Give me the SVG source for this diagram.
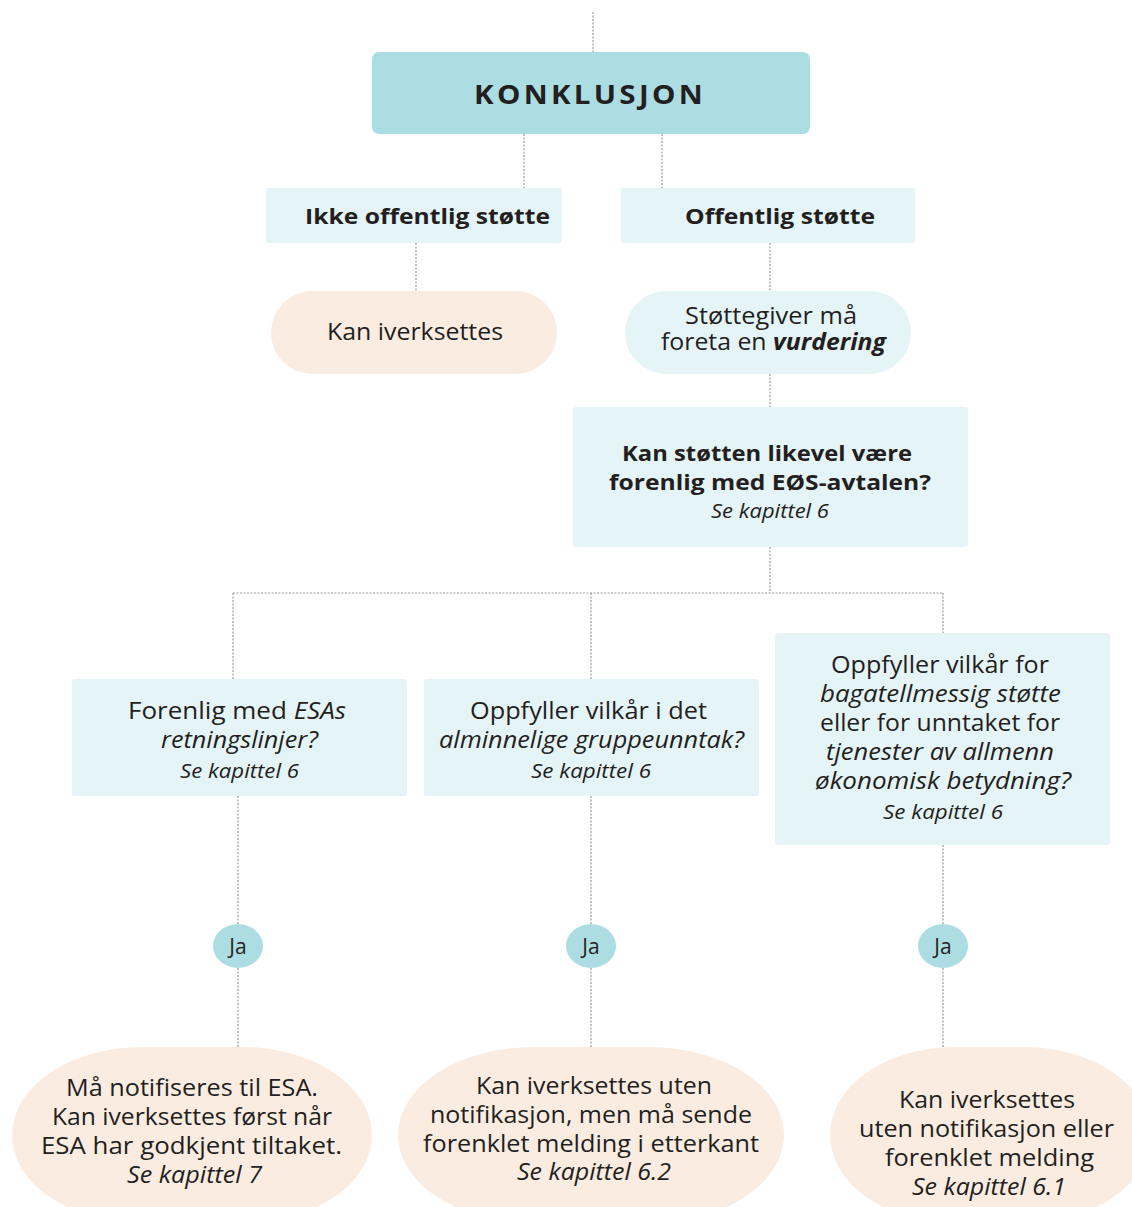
<svg xmlns="http://www.w3.org/2000/svg" width="1132" height="1207" viewBox="0 0 1132 1207">
<style>
.t{font-family:"Open Sans","Liberation Sans",sans-serif;fill:#231f20;text-anchor:middle;font-size:23px}
.b{font-weight:bold}
.i{font-style:italic}
.s{font-style:italic;font-size:19.5px}
.dark{fill:#acdde3}
.light{fill:#e5f4f7}
.peach{fill:#faece0}
.c{stroke:#9a9a9a;stroke-width:1.2;stroke-dasharray:2 1.5;fill:none}
</style>
<rect width="1132" height="1207" fill="#ffffff"/>
<g id="connectors">
<path class="c" d="M593 12V52"/>
<path class="c" d="M524 134V188"/>
<path class="c" d="M662 134V188"/>
<path class="c" d="M416 243V291"/>
<path class="c" d="M770 243V291"/>
<path class="c" d="M770 374V407"/>
<path class="c" d="M770 547V593"/>
<path class="c" d="M233 593H943"/>
<path class="c" d="M233 593V679"/>
<path class="c" d="M591 593V679"/>
<path class="c" d="M943 593V633"/>
<path class="c" d="M238 796V924"/>
<path class="c" d="M591 796V924"/>
<path class="c" d="M943 845V924"/>
<path class="c" d="M238 968V1047"/>
<path class="c" d="M591 968V1047"/>
<path class="c" d="M943 968V1047"/>
</g>
<g id="konklusjon">
<rect class="dark" x="372" y="52" width="438" height="82" rx="7"/>
<text class="t b" x="590" y="104" style="font-size:27px;letter-spacing:3px" textLength="232" lengthAdjust="spacingAndGlyphs">KONKLUSJON</text>
</g>
<g id="ikke-offentlig">
<rect class="light" x="266" y="188" width="296" height="55" rx="3"/>
<text class="t b" x="427.5" y="224" style="font-size:22px" textLength="245" lengthAdjust="spacingAndGlyphs">Ikke offentlig støtte</text>
</g>
<g id="offentlig">
<rect class="light" x="621" y="188" width="294" height="55" rx="3"/>
<text class="t b" x="780" y="224" style="font-size:22px" textLength="190" lengthAdjust="spacingAndGlyphs">Offentlig støtte</text>
</g>
<g id="kan-iverksettes">
<rect class="peach" x="271" y="291" width="286" height="83" rx="41.5"/>
<text class="t" x="415" y="340" textLength="176" lengthAdjust="spacingAndGlyphs">Kan iverksettes</text>
</g>
<g id="stottegiver">
<rect class="light" x="625" y="291" width="286" height="83" rx="41.5"/>
<text class="t" x="771" y="324" textLength="172" lengthAdjust="spacingAndGlyphs">Støttegiver må</text>
<text class="t" x="773.5" y="350" textLength="225" lengthAdjust="spacingAndGlyphs">foreta en <tspan class="b i">vurdering</tspan></text>
</g>
<g id="forenlig-eos">
<rect class="light" x="573" y="407" width="395" height="140" rx="3"/>
<text class="t b" x="767" y="461" style="font-size:22px" textLength="290" lengthAdjust="spacingAndGlyphs">Kan støtten likevel være</text>
<text class="t b" x="770" y="490" style="font-size:22px" textLength="322" lengthAdjust="spacingAndGlyphs">forenlig med EØS-avtalen?</text>
<text class="t s" x="770" y="518" textLength="118" lengthAdjust="spacingAndGlyphs">Se kapittel 6</text>
</g>
<g id="esa-retningslinjer">
<rect class="light" x="72" y="679" width="335" height="117" rx="3"/>
<text class="t" x="237" y="719" textLength="218" lengthAdjust="spacingAndGlyphs">Forenlig med <tspan class="i">ESAs</tspan></text>
<text class="t i" x="239.5" y="748" textLength="157" lengthAdjust="spacingAndGlyphs">retningslinjer?</text>
<text class="t s" x="239.5" y="778" textLength="119" lengthAdjust="spacingAndGlyphs">Se kapittel 6</text>
</g>
<g id="gruppeunntak">
<rect class="light" x="424" y="679" width="335" height="117" rx="3"/>
<text class="t" x="588.5" y="719" textLength="237" lengthAdjust="spacingAndGlyphs">Oppfyller vilkår i det</text>
<text class="t i" x="591.5" y="748" textLength="305" lengthAdjust="spacingAndGlyphs">alminnelige gruppeunntak?</text>
<text class="t s" x="591" y="778" textLength="120" lengthAdjust="spacingAndGlyphs">Se kapittel 6</text>
</g>
<g id="bagatell">
<rect class="light" x="775" y="633" width="335" height="212" rx="3"/>
<text class="t" x="940" y="673" textLength="218" lengthAdjust="spacingAndGlyphs">Oppfyller vilkår for</text>
<text class="t i" x="940.5" y="702" textLength="241" lengthAdjust="spacingAndGlyphs">bagatellmessig støtte</text>
<text class="t" x="940" y="731" textLength="240" lengthAdjust="spacingAndGlyphs">eller for unntaket for</text>
<text class="t i" x="940" y="760" textLength="228" lengthAdjust="spacingAndGlyphs">tjenester av allmenn</text>
<text class="t i" x="943" y="789" textLength="256" lengthAdjust="spacingAndGlyphs">økonomisk betydning?</text>
<text class="t s" x="943" y="819" textLength="120" lengthAdjust="spacingAndGlyphs">Se kapittel 6</text>
</g>
<g id="ja1">
<ellipse class="dark" cx="238" cy="946" rx="25" ry="22"/>
<text class="t" x="238" y="954" style="font-size:21px">Ja</text>
</g>
<g id="ja2">
<ellipse class="dark" cx="591" cy="946" rx="25" ry="22"/>
<text class="t" x="591" y="954" style="font-size:21px">Ja</text>
</g>
<g id="ja3">
<ellipse class="dark" cx="943" cy="946" rx="25" ry="22"/>
<text class="t" x="943" y="954" style="font-size:21px">Ja</text>
</g>
<g id="notifiseres">
<rect class="peach" x="12" y="1047" width="360" height="176" rx="130" ry="88"/>
<text class="t" x="192" y="1096" textLength="252" lengthAdjust="spacingAndGlyphs">Må notifiseres til ESA.</text>
<text class="t" x="192" y="1125" textLength="280" lengthAdjust="spacingAndGlyphs">Kan iverksettes først når</text>
<text class="t" x="191.5" y="1154" textLength="301" lengthAdjust="spacingAndGlyphs">ESA har godkjent tiltaket.</text>
<text class="t i" x="194.5" y="1183" textLength="135" lengthAdjust="spacingAndGlyphs">Se kapittel 7</text>
</g>
<g id="forenklet-melding">
<rect class="peach" x="398" y="1047" width="386" height="176" rx="135" ry="88"/>
<text class="t" x="594" y="1094" textLength="236" lengthAdjust="spacingAndGlyphs">Kan iverksettes uten</text>
<text class="t" x="591" y="1123" textLength="322" lengthAdjust="spacingAndGlyphs">notifikasjon, men må sende</text>
<text class="t" x="591" y="1152" textLength="336" lengthAdjust="spacingAndGlyphs">forenklet melding i etterkant</text>
<text class="t i" x="594" y="1180" textLength="154" lengthAdjust="spacingAndGlyphs">Se kapittel 6.2</text>
</g>
<g id="uten-notifikasjon">
<rect class="peach" x="830" y="1047" width="320" height="176" rx="125" ry="88"/>
<text class="t" x="987" y="1108" textLength="176" lengthAdjust="spacingAndGlyphs">Kan iverksettes</text>
<text class="t" x="986.5" y="1137" textLength="255" lengthAdjust="spacingAndGlyphs">uten notifikasjon eller</text>
<text class="t" x="989.5" y="1166" textLength="209" lengthAdjust="spacingAndGlyphs">forenklet melding</text>
<text class="t i" x="989" y="1195" textLength="154" lengthAdjust="spacingAndGlyphs">Se kapittel 6.1</text>
</g>
</svg>
